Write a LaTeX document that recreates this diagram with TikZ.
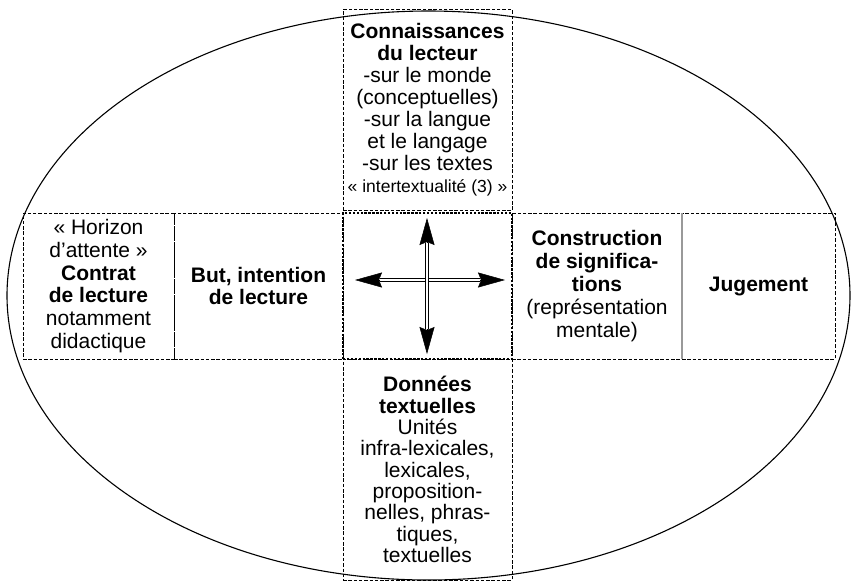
\documentclass[tikz,border=0pt]{standalone}
\usepackage{fontspec}
\setmainfont{Liberation Sans}
\usetikzlibrary{arrows.meta,calc}
\begin{document}
\begin{tikzpicture}[x=1pt,y=-1pt,
  box/.style={draw, line width=0.8pt, dash pattern=on 3.5pt off 1.8pt,
    inner sep=0pt, outer sep=0pt, align=center,
    font=\fontsize{21}{22.8}\selectfont},
  cbox/.style={draw, line width=1.9pt, dash pattern=on 2.4pt off 1.5pt,
    inner sep=0pt, outer sep=0pt},
  dbl/.style={double, double distance=1.8pt, line width=1.2pt},
  tipline/.style={line width=0.5pt, -{Stealth[length=27pt,width=15pt,inset=3pt]}},
  sep/.style={draw=black!40, line width=2.4pt}
]
\useasboundingbox (0,0) rectangle (855,582);
\draw[line width=1.1pt] (428.5,295.5) ellipse [x radius=421.5, y radius=284.5];

\node[box, minimum width=169pt, minimum height=201pt, font=\fontsize{21}{22}\selectfont] (top) at (427.5,110)
  {\textbf{Connaissances}\\\textbf{du lecteur}\\-sur le monde\\(conceptuelles)\\-sur la langue\\et le langage\\-sur les textes\\{\fontsize{17.5}{22}\selectfont « intertextualité (3) »}};

\node[box, minimum width=151pt, minimum height=146pt] (lc) at (98.5,286)
  {« Horizon\\d'attente »\\\textbf{Contrat}\\\textbf{de lecture}\\notamment\\didactique};

\node[box, minimum width=169pt, minimum height=146pt] (lb) at (258.5,286)
  {\textbf{But, intention}\\\textbf{de lecture}};

\node[box, minimum width=170pt, minimum height=146pt] (rc) at (597,286)
  {\textbf{Construction}\\\textbf{de significa-}\\\textbf{tions}\\(représentation\\mentale)};

\node[box, minimum width=153pt, minimum height=146pt] (rj) at (758.5,286)
  {\textbf{Jugement}};

\node[box, minimum width=169pt, minimum height=221pt, font=\fontsize{21}{21.3}\selectfont] (bot) at (427.5,469.5)
  {\textbf{Données}\\\textbf{textuelles}\\Unités\\infra-lexicales,\\lexicales,\\proposition-\\nelles, phras-\\tiques,\\textuelles};

\node[cbox, minimum width=169pt, minimum height=146pt] (ctr) at (427.5,286) {};

\draw[sep] (rc.north east) -- (rc.south east);

\coordinate (an) at (427,218);
\coordinate (as) at (427,354);
\coordinate (aw) at (355,280);
\coordinate (ae) at (505,280);
\coordinate (anb) at ($(an)+(0,25)$);
\coordinate (asb) at ($(as)+(0,-25)$);
\coordinate (awb) at ($(aw)+(25,0)$);
\coordinate (aeb) at ($(ae)+(-25,0)$);

\draw[dbl] (awb) -- (aeb);
\draw[dbl] (anb) -- (asb);
\draw[tipline] (anb) -- (an);
\draw[tipline] (asb) -- (as);
\draw[tipline] (awb) -- (aw);
\draw[tipline] (aeb) -- (ae);
\end{tikzpicture}
\end{document}
